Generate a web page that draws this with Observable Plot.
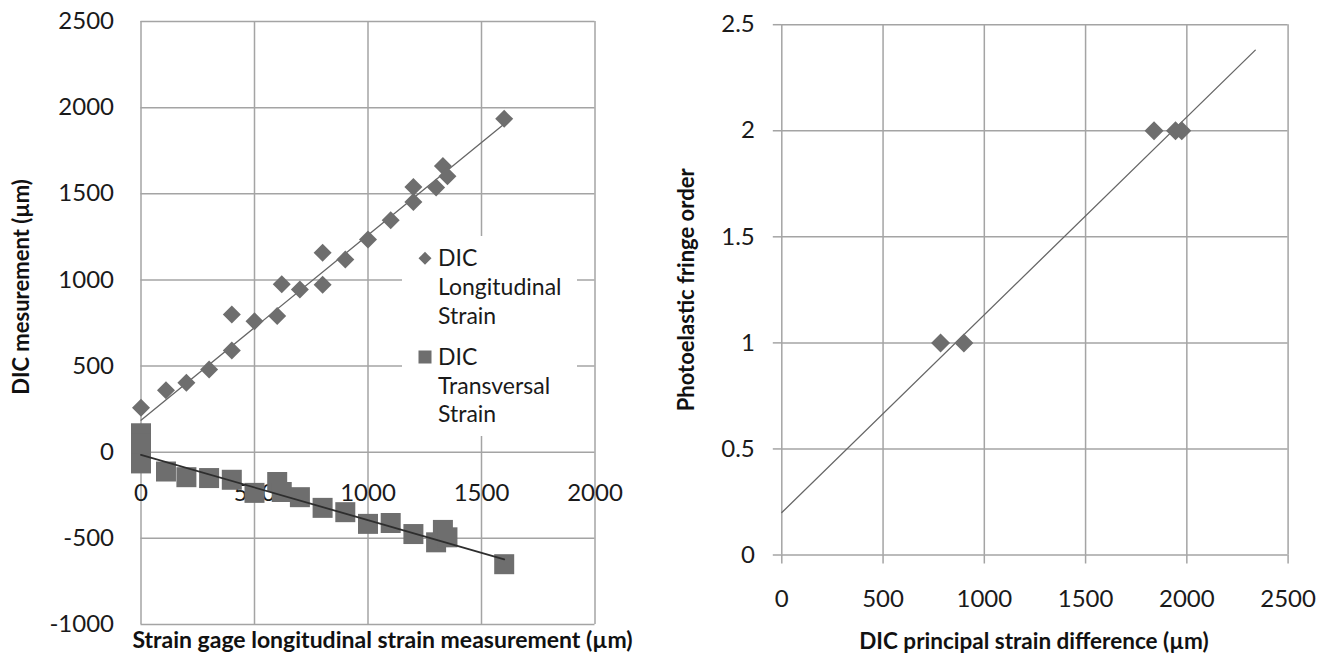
<!DOCTYPE html>
<html>
<head>
<meta charset="utf-8">
<script src="https://cdn.jsdelivr.net/npm/d3@7"></script>
<script src="https://cdn.jsdelivr.net/npm/@observablehq/plot@0.6"></script>
<style>
  html, body { margin: 0; padding: 0; background: #fff; }
  #wrap { position: relative; width: 1328px; height: 654px; font-family: Lato, "Open Sans", sans-serif; }
  #left, #right { position: absolute; top: 0; }
  #left { left: 0; }
  #right { left: 660px; }
  #legend { position: absolute; left: 402px; top: 236px; }
</style>
</head>
<body>
<div id="wrap">
  <div id="left"></div>
  <div id="right"></div>
  <svg id="legend" width="175" height="200"></svg>
</div>
<script>
// ---- Left chart: DIC vs strain gage ----
const longX = [0, 110, 200, 300, 400, 400, 500, 600, 620, 700, 800, 800, 900, 1000, 1100, 1200, 1200, 1300, 1330, 1350, 1600];
const longY = [258, 360, 403, 480, 590, 800, 760, 790, 975, 945, 1158, 972, 1118, 1234, 1346, 1540, 1452, 1536, 1661, 1602, 1935];
const transX = [0, 0, 0, 0, 110, 200, 300, 400, 500, 600, 620, 700, 800, 900, 1000, 1100, 1200, 1300, 1330, 1350, 1600];
const transY = [110, 50, 0, -65, -112, -145, -150, -160, -236, -173, -231, -261, -323, -348, -416, -411, -475, -523, -451, -494, -650];
// linear trendlines (end points)
const longTrendX = [0, 1600];
const longTrendY = [186, 1905];
const transTrendX = [0, 1600];
const transTrendY = [-15, -622];
const seriesNames = ["DIC Longitudinal Strain", "DIC Transversal Strain"];
const leftXTicks = [0, 500, 1000, 1500, 2000];
const leftYTicks = [-1000, -500, 0, 500, 1000, 1500, 2000, 2500];
const leftXTitle = "Strain gage longitudinal strain measurement (µm)";
const leftYTitle = "DIC mesurement (µm)";

// ---- Right chart: fringe order vs principal strain difference ----
const fringeX = [784, 899, 1838, 1944, 1975];
const fringeY = [1, 1, 2, 2, 2];
const fringeTrendX = [0, 2338];
const fringeTrendY = [0.2, 2.38];
const rightXTicks = [0, 500, 1000, 1500, 2000, 2500];
const rightYTicks = [0, 0.5, 1, 1.5, 2, 2.5];
const rightXTitle = "DIC principal strain difference (µm)";
const rightYTitle = "Photoelastic fringe order";

const gridColor = "#a4a4a4";
const markColor = "#6e6e6e";
const textColor = "#1a1a1a";
const font = "Lato, 'Open Sans', sans-serif";

// Excel-style diamond: a square turned 45°
const diamond = {
  draw(ctx, size) {
    const h = Math.sqrt(size / 2);
    ctx.moveTo(0, -h); ctx.lineTo(h, 0); ctx.lineTo(0, h); ctx.lineTo(-h, 0); ctx.closePath();
  }
};
const rForDiamond = h => Math.sqrt(2 * h * h / Math.PI);
const rForSquare = s => Math.sqrt(s * s / Math.PI);

const zip = (xs, ys) => xs.map((x, i) => ({x, y: ys[i]}));
const longData = zip(longX, longY);
const transData = zip(transX, transY);
const longTrend = zip(longTrendX, longTrendY);
const transTrend = zip(transTrendX, transTrendY);
const fringeData = zip(fringeX, fringeY);
const fringeTrend = zip(fringeTrendX, fringeTrendY);

const titleStyle = {fontWeight: "bold", fill: "#111", textAnchor: "middle", lineAnchor: "middle"};

const left = Plot.plot({
  width: 660,
  height: 654,
  marginLeft: 140.5,
  marginRight: 65.5,
  marginTop: 21,
  marginBottom: 30,
  x: {domain: [0, 2000], axis: null},
  y: {domain: [-1000, 2500]},
  style: {fontFamily: font, background: "transparent", overflow: "visible"},
  marks: [
    Plot.gridX(leftXTicks, {stroke: gridColor, strokeOpacity: 1, strokeWidth: 1.5}),
    Plot.gridY(leftYTicks, {stroke: gridColor, strokeOpacity: 1, strokeWidth: 1.5}),
    Plot.axisY(leftYTicks, {tickSize: 0, tickPadding: 27, fontSize: 24, fill: textColor, tickFormat: d => String(d), label: null}),
    // x tick labels sit just below the zero line
    Plot.text(leftXTicks, {x: d => d, y: () => 0, dy: 41, text: d => String(d), fontSize: 24, fill: textColor}),
    Plot.line(longTrend, {x: "x", y: "y", stroke: "#666", strokeWidth: 1.3}),
    Plot.dot(longData, {x: "x", y: "y", symbol: diamond, r: rForDiamond(9), fill: markColor, stroke: "none"}),
    Plot.dot(transData, {x: "x", y: "y", symbol: "square", r: rForSquare(20), fill: markColor, stroke: "none"}),
    Plot.line(transTrend, {x: "x", y: "y", stroke: "#2e2e2e", strokeWidth: 1.8}),
    Plot.text([leftYTitle], {frameAnchor: "left", dx: -119.5, dy: -36, rotate: -90, fontSize: 22, ...titleStyle}),
    Plot.text([leftXTitle], {frameAnchor: "bottom", dx: 14.5, dy: 16.5, fontSize: 23, ...titleStyle})
  ]
});
document.getElementById("left").append(left);

const right = Plot.plot({
  width: 668,
  height: 654,
  marginLeft: 121.3,
  marginRight: 40.4,
  marginTop: 24.2,
  marginBottom: 99.5,
  x: {domain: [0, 2500]},
  y: {domain: [0, 2.5]},
  style: {fontFamily: font, background: "transparent", overflow: "visible"},
  marks: [
    Plot.gridX(rightXTicks, {stroke: gridColor, strokeOpacity: 1, strokeWidth: 1.5}),
    Plot.gridY(rightYTicks, {stroke: gridColor, strokeOpacity: 1, strokeWidth: 1.5}),
    Plot.axisY(rightYTicks, {tickSize: 8.5, tickPadding: 18.5, stroke: gridColor, strokeWidth: 1.5, fontSize: 24, fill: textColor, tickFormat: d => String(d), label: null}),
    Plot.axisX(rightXTicks, {tickSize: 9, tickPadding: 26, stroke: gridColor, strokeWidth: 1.5, fontSize: 24, fill: textColor, tickFormat: d => String(d), label: null}),
    Plot.line(fringeTrend, {x: "x", y: "y", stroke: "#666", strokeWidth: 1.3}),
    Plot.dot(fringeData, {x: "x", y: "y", symbol: diamond, r: rForDiamond(9.5), fill: markColor, stroke: "none"}),
    Plot.text([rightYTitle], {frameAnchor: "left", dx: -95.3, dy: 0, rotate: -90, fontSize: 22, ...titleStyle}),
    Plot.text([rightXTitle], {frameAnchor: "bottom", dx: -1, dy: 86.5, fontSize: 22.5, ...titleStyle})
  ]
});
document.getElementById("right").append(right);

// Legend box for the left chart
const legend = d3.select("#legend");
legend.append("rect").attr("width", 175).attr("height", 200).attr("fill", "#fff");
const legendRows = [
  {name: seriesNames[0], top: 22.3, shape: "diamond"},
  {name: seriesNames[1], top: 121, shape: "square"}
];
for (const row of legendRows) {
  if (row.shape === "diamond") {
    const h = 6.5;
    legend.append("path")
      .attr("d", `M23,${row.top - h}L${23 + h},${row.top}L23,${row.top + h}L${23 - h},${row.top}Z`)
      .attr("fill", markColor);
  } else {
    legend.append("rect")
      .attr("x", 23 - 6.5).attr("y", row.top - 6.5)
      .attr("width", 13).attr("height", 13)
      .attr("fill", markColor);
  }
  row.name.split(" ").forEach((word, i) => {
    legend.append("text")
      .attr("x", 36)
      .attr("y", row.top + i * 28.6)
      .attr("dy", "0.35em")
      .attr("font-family", font)
      .attr("font-size", 23)
      .attr("fill", textColor)
      .text(word);
  });
}
</script>
</body>
</html>
